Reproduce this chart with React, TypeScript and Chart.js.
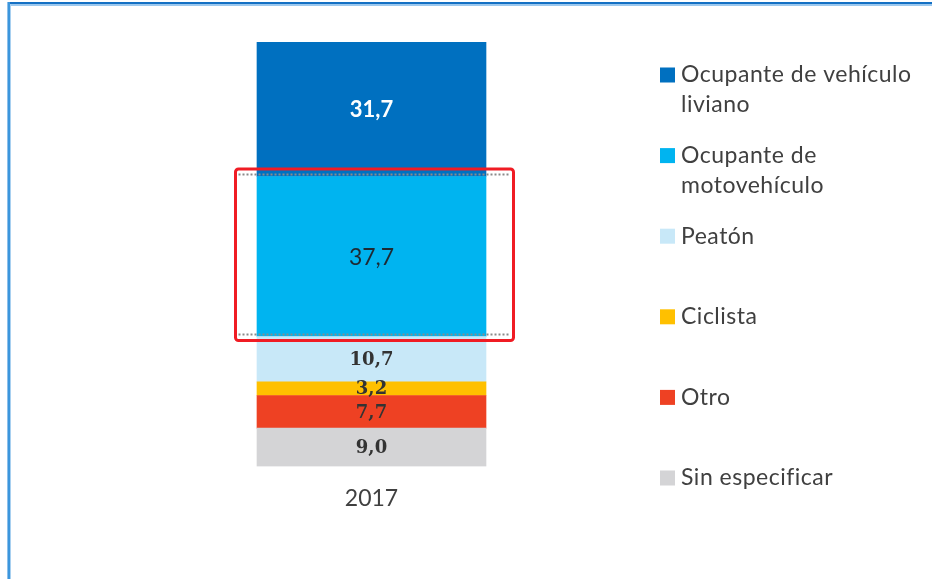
import React, { useEffect, useRef } from 'react';
import { Chart, registerables } from 'chart.js';

Chart.register(...registerables);

const categories = ['2017'];
const seriesNames = [
  'Ocupante de vehículo liviano',
  'Ocupante de motovehículo',
  'Peatón',
  'Ciclista',
  'Otro',
  'Sin especificar',
];
const seriesValues = [31.7, 37.7, 10.7, 3.2, 7.7, 9.0];
const legendLines = [
  ['Ocupante de vehículo', 'liviano'],
  ['Ocupante de', 'motovehículo'],
  ['Peatón'],
  ['Ciclista'],
  ['Otro'],
  ['Sin especificar'],
];
const highlightedSeries = 1;

const seriesColors = ['#0070C0', '#00B4F0', '#C8E8F8', '#FFC000', '#EE4123', '#D4D4D6'];
const labelColors = ['#FFFFFF', '#1E2A33', '#333333', '#333333', '#333333', '#333333'];
const labelFonts = [
  'bold 22px Lato',
  '23px Lato',
  'bold 18px "DejaVu Serif"',
  'bold 18px "DejaVu Serif"',
  'bold 18px "DejaVu Serif"',
  'bold 18px "DejaVu Serif"',
];

const fmt = (v: number) => v.toFixed(1).replace('.', ',');

// datasets stack bottom-up, so the last series is the first dataset
const order = seriesNames.map((_, i) => i).reverse();

const framePlugin = {
  id: 'frame',
  beforeDraw(chart: any) {
    const ctx = chart.ctx;
    ctx.save();
    ctx.fillStyle = '#FFFFFF';
    ctx.fillRect(0, 0, chart.width, chart.height);
    ctx.fillStyle = '#1470C4';
    ctx.fillRect(8, 2, chart.width, 2);
    ctx.fillStyle = '#9CC8EE';
    ctx.fillRect(11, 4, chart.width, 2);
    ctx.fillStyle = '#8CC0EC';
    ctx.fillRect(7, 2, 1, chart.height);
    ctx.fillStyle = '#3C96DC';
    ctx.fillRect(8, 2, 2, chart.height);
    ctx.fillStyle = '#A8D0F0';
    ctx.fillRect(10, 4, 1, chart.height);
    ctx.restore();
  },
};

const labelsPlugin = {
  id: 'valueLabels',
  afterDatasetsDraw(chart: any) {
    const ctx = chart.ctx;
    ctx.save();
    ctx.textAlign = 'center';
    ctx.textBaseline = 'middle';
    chart.data.datasets.forEach((ds: any, di: number) => {
      const s = ds.seriesIndex;
      const meta = chart.getDatasetMeta(di);
      meta.data.forEach((el: any, j: number) => {
        const { x, y, base } = el.getProps(['x', 'y', 'base'], true);
        ctx.font = labelFonts[s];
        ctx.fillStyle = labelColors[s];
        ctx.fillText(fmt(ds.data[j]), x, (y + base) / 2 + 1);
      });
    });
    ctx.restore();
  },
};

const highlightPlugin = {
  id: 'highlight',
  afterDraw(chart: any) {
    const di = chart.data.datasets.findIndex((d: any) => d.seriesIndex === highlightedSeries);
    if (di < 0) return;
    const el = chart.getDatasetMeta(di).data[0];
    const { x, y, base, width } = el.getProps(['x', 'y', 'base', 'width'], true);
    const left = x - width / 2 - 21.5;
    const right = x + width / 2 + 27.5;
    const top = y - 7.5;
    const bottom = base + 4;
    const ctx = chart.ctx;
    ctx.save();
    ctx.strokeStyle = '#8A8A8A';
    ctx.lineWidth = 2;
    ctx.setLineDash([2, 2]);
    ctx.beginPath();
    ctx.moveTo(left + 3, y - 2);
    ctx.lineTo(right - 3, y - 2);
    ctx.moveTo(left + 3, base - 2);
    ctx.lineTo(right - 3, base - 2);
    ctx.stroke();
    ctx.setLineDash([]);
    ctx.strokeStyle = '#F01C24';
    ctx.lineWidth = 3;
    ctx.beginPath();
    if ((ctx as any).roundRect) {
      (ctx as any).roundRect(left, top, right - left, bottom - top, 3);
    } else {
      ctx.rect(left, top, right - left, bottom - top);
    }
    ctx.stroke();
    ctx.restore();
  },
};

const legendPlugin = {
  id: 'sideLegend',
  afterDraw(chart: any) {
    const ctx = chart.ctx;
    ctx.save();
    ctx.textBaseline = 'middle';
    ctx.textAlign = 'left';
    ctx.font = '23px Lato';
    (ctx as any).letterSpacing = '0.5px';
    const y0 = 75;
    const step = 80.6;
    const lineH = 30;
    seriesNames.forEach((_, i) => {
      const cy = y0 + i * step;
      ctx.fillStyle = seriesColors[i];
      ctx.fillRect(660, cy - 7.5, 15, 15);
      ctx.fillStyle = '#404040';
      legendLines[i].forEach((line, k) => {
        ctx.fillText(line, 681, cy + k * lineH);
      });
    });
    ctx.restore();
  },
};

export default function App() {
  const ref = useRef<HTMLCanvasElement | null>(null);

  useEffect(() => {
    document.body.style.margin = '0';
    if (!ref.current) return;
    const chart = new Chart(ref.current, {
      type: 'bar',
      data: {
        labels: categories,
        datasets: order.map((s) => ({
          label: seriesNames[s],
          data: [seriesValues[s]],
          backgroundColor: seriesColors[s],
          borderWidth: 0,
          barThickness: 229,
          seriesIndex: s,
        })) as any,
      },
      options: {
        animation: false,
        responsive: true,
        maintainAspectRatio: false,
        layout: { padding: { left: 142, right: 331, top: 42, bottom: 57 } },
        plugins: {
          legend: { display: false },
          tooltip: { enabled: false },
        },
        scales: {
          x: {
            stacked: true,
            grid: { display: false },
            border: { display: false },
            ticks: {
              color: '#404040',
              font: { family: 'Lato', size: 23 },
              padding: 10,
            },
          },
          y: {
            stacked: true,
            display: false,
            min: 0,
            max: 100,
          },
        },
      },
      plugins: [framePlugin, labelsPlugin, highlightPlugin, legendPlugin],
    });
    return () => chart.destroy();
  }, []);

  return (
    <div style={{ position: 'relative', width: 932, height: 579 }}>
      <canvas ref={ref} />
    </div>
  );
}
